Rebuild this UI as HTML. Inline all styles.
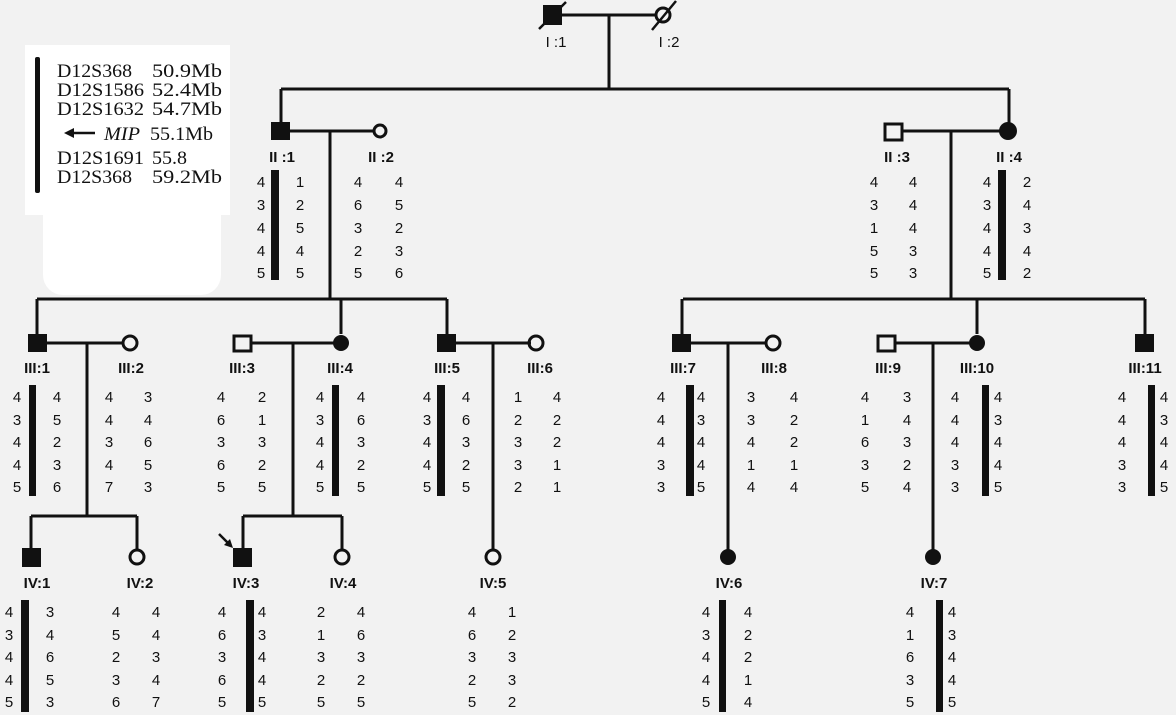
<!DOCTYPE html>
<html><head><meta charset="utf-8"><style>
html,body{margin:0;padding:0;background:#f2f2f2;}
svg{display:block;}
.d{font-family:"Liberation Sans",sans-serif;font-size:15px;fill:#111;text-anchor:middle;}
.l{font-family:"Liberation Sans",sans-serif;font-size:15px;fill:#111;text-anchor:middle;}
.s{font-family:"Liberation Serif",serif;font-size:19px;fill:#111;}
</style></head><body>
<svg width="1176" height="715" viewBox="0 0 1176 715" xmlns="http://www.w3.org/2000/svg">
<rect width="1176" height="715" fill="#f2f2f2"/>
<!-- legend -->
<rect x="25" y="45" width="205" height="170" fill="#fff"/>
<rect x="43" y="195" width="178" height="100" rx="20" fill="#fff"/>
<rect x="35" y="57" width="5" height="136" rx="2" fill="#111"/>
<text class="s" x="57" y="77" textLength="75" lengthAdjust="spacingAndGlyphs">D12S368</text><text class="s" x="152" y="77" textLength="70" lengthAdjust="spacingAndGlyphs">50.9Mb</text>
<text class="s" x="57" y="96" textLength="87" lengthAdjust="spacingAndGlyphs">D12S1586</text><text class="s" x="152" y="96" textLength="70" lengthAdjust="spacingAndGlyphs">52.4Mb</text>
<text class="s" x="57" y="115" textLength="87" lengthAdjust="spacingAndGlyphs">D12S1632</text><text class="s" x="152" y="115" textLength="70" lengthAdjust="spacingAndGlyphs">54.7Mb</text>
<line x1="70" y1="133" x2="95" y2="133" stroke="#111" stroke-width="2.5"/><polygon points="64,133 74,128 74,138" fill="#111"/>
<text class="s" x="104" y="140" font-style="italic" textLength="36" lengthAdjust="spacingAndGlyphs">MIP</text><text class="s" x="150" y="140" textLength="63" lengthAdjust="spacingAndGlyphs">55.1Mb</text>
<text class="s" x="57" y="164" textLength="87" lengthAdjust="spacingAndGlyphs">D12S1691</text><text class="s" x="152" y="164" textLength="35" lengthAdjust="spacingAndGlyphs">55.8</text>
<text class="s" x="57" y="183" textLength="75" lengthAdjust="spacingAndGlyphs">D12S368</text><text class="s" x="152" y="183" textLength="70" lengthAdjust="spacingAndGlyphs">59.2Mb</text>

<g stroke="#111" stroke-width="3" fill="none">
<line x1="562" y1="15" x2="657" y2="15"/>
<line x1="609" y1="15" x2="609" y2="89"/>
<line x1="281" y1="89" x2="1009" y2="89"/>
<line x1="281" y1="89" x2="281" y2="123"/>
<line x1="1009" y1="89" x2="1009" y2="123"/>
<line x1="290" y1="131" x2="374" y2="131"/>
<line x1="330" y1="131" x2="330" y2="299"/>
<line x1="903" y1="131" x2="1000" y2="131"/>
<line x1="951" y1="131" x2="951" y2="299"/>
<line x1="37" y1="299" x2="447" y2="299"/>
<line x1="683" y1="299" x2="1145" y2="299"/>
<line x1="37" y1="299" x2="37" y2="334"/>
<line x1="341" y1="299" x2="341" y2="334"/>
<line x1="447" y1="299" x2="447" y2="334"/>
<line x1="682" y1="299" x2="682" y2="334"/>
<line x1="977" y1="299" x2="977" y2="334"/>
<line x1="1145" y1="299" x2="1145" y2="334"/>
<line x1="47" y1="343" x2="124" y2="343"/>
<line x1="87" y1="343" x2="87" y2="516"/>
<line x1="31" y1="516" x2="137" y2="516"/><line x1="31" y1="516" x2="31" y2="548"/><line x1="137" y1="516" x2="137" y2="550"/>
<line x1="252" y1="343" x2="336" y2="343"/>
<line x1="293" y1="343" x2="293" y2="516"/>
<line x1="243" y1="516" x2="342" y2="516"/><line x1="243" y1="516" x2="243" y2="548"/><line x1="342" y1="516" x2="342" y2="550"/>
<line x1="456" y1="343" x2="531" y2="343"/>
<line x1="493" y1="343" x2="493" y2="550"/>
<line x1="690" y1="343" x2="767" y2="343"/>
<line x1="728" y1="343" x2="728" y2="550"/>
<line x1="895" y1="343" x2="972" y2="343"/>
<line x1="933" y1="343" x2="933" y2="550"/>
</g>
<rect x="543" y="5" width="19" height="20" fill="#111"/>
<line x1="539" y1="29" x2="566" y2="2" stroke="#111" stroke-width="2.5"/>
<circle cx="663" cy="15" r="7" fill="none" stroke="#111" stroke-width="3"/>
<line x1="652" y1="30" x2="676" y2="1" stroke="#111" stroke-width="2.5"/>
<text class="l" x="556" y="47">I :1</text><text class="l" x="669" y="47">I :2</text>
<rect x="271" y="122" width="19" height="18" fill="#111"/>
<circle cx="380" cy="131" r="6" fill="none" stroke="#111" stroke-width="3"/>
<rect x="885" y="124" width="17" height="16" fill="none" stroke="#111" stroke-width="3"/>
<circle cx="1008" cy="131" r="9" fill="#111"/>
<g font-weight="bold">
<text class="l" x="282" y="162">II :1</text><text class="l" x="381" y="162">II :2</text>
<text class="l" x="897" y="162">II :3</text><text class="l" x="1009" y="162">II :4</text>
</g>
<rect x="28" y="334" width="19" height="18" fill="#111"/>
<circle cx="130" cy="343" r="7" fill="none" stroke="#111" stroke-width="3"/>
<rect x="234" y="336" width="17" height="15" fill="none" stroke="#111" stroke-width="3"/>
<circle cx="341" cy="343" r="8" fill="#111"/>
<rect x="437" y="334" width="19" height="18" fill="#111"/>
<circle cx="536" cy="343" r="7" fill="none" stroke="#111" stroke-width="3"/>
<rect x="672" y="334" width="19" height="18" fill="#111"/>
<circle cx="773" cy="343" r="7" fill="none" stroke="#111" stroke-width="3"/>
<rect x="878" y="336" width="17" height="15" fill="none" stroke="#111" stroke-width="3"/>
<circle cx="977" cy="343" r="8" fill="#111"/>
<rect x="1135" y="334" width="19" height="18" fill="#111"/>
<g font-weight="bold">
<text class="l" x="37" y="373">III:1</text><text class="l" x="131" y="373">III:2</text>
<text class="l" x="242" y="373">III:3</text><text class="l" x="340" y="373">III:4</text>
<text class="l" x="447" y="373">III:5</text><text class="l" x="540" y="373">III:6</text>
<text class="l" x="683" y="373">III:7</text><text class="l" x="774" y="373">III:8</text>
<text class="l" x="888" y="373">III:9</text><text class="l" x="977" y="373">III:10</text>
<text class="l" x="1145" y="373">III:11</text>
</g>
<rect x="22" y="548" width="19" height="19" fill="#111"/>
<circle cx="137" cy="557" r="7" fill="none" stroke="#111" stroke-width="3"/>
<rect x="233" y="548" width="19" height="19" fill="#111"/>
<line x1="219" y1="534" x2="230" y2="545" stroke="#111" stroke-width="2.5"/><polygon points="233,548 224,545 230,539" fill="#111"/>
<circle cx="342" cy="557" r="7" fill="none" stroke="#111" stroke-width="3"/>
<circle cx="493" cy="557" r="7" fill="none" stroke="#111" stroke-width="3"/>
<circle cx="728" cy="557" r="8" fill="#111"/>
<circle cx="933" cy="557" r="8" fill="#111"/>
<g font-weight="bold">
<text class="l" x="37" y="588">IV:1</text><text class="l" x="140" y="588">IV:2</text>
<text class="l" x="246" y="588">IV:3</text><text class="l" x="343" y="588">IV:4</text>
<text class="l" x="493" y="588">IV:5</text><text class="l" x="729" y="588">IV:6</text>
<text class="l" x="934" y="588">IV:7</text>
</g>
<g fill="#111">
<rect x="271" y="170" width="8" height="110"/>
<rect x="998" y="170" width="8" height="110"/>
<rect x="29" y="385" width="7" height="111"/>
<rect x="332" y="385" width="7" height="111"/>
<rect x="437" y="385" width="8" height="111"/>
<rect x="686" y="385" width="8" height="111"/>
<rect x="982" y="385" width="7" height="111"/>
<rect x="1148" y="385" width="7" height="111"/>
<rect x="21" y="600" width="8" height="112"/>
<rect x="246" y="600" width="8" height="112"/>
<rect x="719" y="600" width="7" height="112"/>
<rect x="936" y="600" width="7" height="112"/>
</g>
<g class="d">
<text x="261" y="187">4</text><text x="261" y="210">3</text><text x="261" y="233">4</text><text x="261" y="256">4</text><text x="261" y="278">5</text>
<text x="300" y="187">1</text><text x="300" y="210">2</text><text x="300" y="233">5</text><text x="300" y="256">4</text><text x="300" y="278">5</text>
<text x="358" y="187">4</text><text x="358" y="210">6</text><text x="358" y="233">3</text><text x="358" y="256">2</text><text x="358" y="278">5</text>
<text x="399" y="187">4</text><text x="399" y="210">5</text><text x="399" y="233">2</text><text x="399" y="256">3</text><text x="399" y="278">6</text>
<text x="874" y="187">4</text><text x="874" y="210">3</text><text x="874" y="233">1</text><text x="874" y="256">5</text><text x="874" y="278">5</text>
<text x="913" y="187">4</text><text x="913" y="210">4</text><text x="913" y="233">4</text><text x="913" y="256">3</text><text x="913" y="278">3</text>
<text x="987" y="187">4</text><text x="987" y="210">3</text><text x="987" y="233">4</text><text x="987" y="256">4</text><text x="987" y="278">5</text>
<text x="1027" y="187">2</text><text x="1027" y="210">4</text><text x="1027" y="233">3</text><text x="1027" y="256">4</text><text x="1027" y="278">2</text>
</g>
<g class="d">
<text x="17" y="402">4</text><text x="17" y="425">3</text><text x="17" y="447">4</text><text x="17" y="470">4</text><text x="17" y="492">5</text>
<text x="57" y="402">4</text><text x="57" y="425">5</text><text x="57" y="447">2</text><text x="57" y="470">3</text><text x="57" y="492">6</text>
<text x="109" y="402">4</text><text x="109" y="425">4</text><text x="109" y="447">3</text><text x="109" y="470">4</text><text x="109" y="492">7</text>
<text x="148" y="402">3</text><text x="148" y="425">4</text><text x="148" y="447">6</text><text x="148" y="470">5</text><text x="148" y="492">3</text>
<text x="221" y="402">4</text><text x="221" y="425">6</text><text x="221" y="447">3</text><text x="221" y="470">6</text><text x="221" y="492">5</text>
<text x="262" y="402">2</text><text x="262" y="425">1</text><text x="262" y="447">3</text><text x="262" y="470">2</text><text x="262" y="492">5</text>
<text x="320" y="402">4</text><text x="320" y="425">3</text><text x="320" y="447">4</text><text x="320" y="470">4</text><text x="320" y="492">5</text>
<text x="361" y="402">4</text><text x="361" y="425">6</text><text x="361" y="447">3</text><text x="361" y="470">2</text><text x="361" y="492">5</text>
<text x="427" y="402">4</text><text x="427" y="425">3</text><text x="427" y="447">4</text><text x="427" y="470">4</text><text x="427" y="492">5</text>
<text x="466" y="402">4</text><text x="466" y="425">6</text><text x="466" y="447">3</text><text x="466" y="470">2</text><text x="466" y="492">5</text>
<text x="518" y="402">1</text><text x="518" y="425">2</text><text x="518" y="447">3</text><text x="518" y="470">3</text><text x="518" y="492">2</text>
<text x="557" y="402">4</text><text x="557" y="425">2</text><text x="557" y="447">2</text><text x="557" y="470">1</text><text x="557" y="492">1</text>
<text x="661" y="402">4</text><text x="661" y="425">4</text><text x="661" y="447">4</text><text x="661" y="470">3</text><text x="661" y="492">3</text>
<text x="701" y="402">4</text><text x="701" y="425">3</text><text x="701" y="447">4</text><text x="701" y="470">4</text><text x="701" y="492">5</text>
<text x="751" y="402">3</text><text x="751" y="425">3</text><text x="751" y="447">4</text><text x="751" y="470">1</text><text x="751" y="492">4</text>
<text x="794" y="402">4</text><text x="794" y="425">2</text><text x="794" y="447">2</text><text x="794" y="470">1</text><text x="794" y="492">4</text>
<text x="865" y="402">4</text><text x="865" y="425">1</text><text x="865" y="447">6</text><text x="865" y="470">3</text><text x="865" y="492">5</text>
<text x="907" y="402">3</text><text x="907" y="425">4</text><text x="907" y="447">3</text><text x="907" y="470">2</text><text x="907" y="492">4</text>
<text x="955" y="402">4</text><text x="955" y="425">4</text><text x="955" y="447">4</text><text x="955" y="470">3</text><text x="955" y="492">3</text>
<text x="998" y="402">4</text><text x="998" y="425">3</text><text x="998" y="447">4</text><text x="998" y="470">4</text><text x="998" y="492">5</text>
<text x="1122" y="402">4</text><text x="1122" y="425">4</text><text x="1122" y="447">4</text><text x="1122" y="470">3</text><text x="1122" y="492">3</text>
<text x="1164" y="402">4</text><text x="1164" y="425">3</text><text x="1164" y="447">4</text><text x="1164" y="470">4</text><text x="1164" y="492">5</text>
</g>
<g class="d">
<text x="9" y="617">4</text><text x="9" y="640">3</text><text x="9" y="662">4</text><text x="9" y="685">4</text><text x="9" y="707">5</text>
<text x="50" y="617">3</text><text x="50" y="640">4</text><text x="50" y="662">6</text><text x="50" y="685">5</text><text x="50" y="707">3</text>
<text x="116" y="617">4</text><text x="116" y="640">5</text><text x="116" y="662">2</text><text x="116" y="685">3</text><text x="116" y="707">6</text>
<text x="156" y="617">4</text><text x="156" y="640">4</text><text x="156" y="662">3</text><text x="156" y="685">4</text><text x="156" y="707">7</text>
<text x="222" y="617">4</text><text x="222" y="640">6</text><text x="222" y="662">3</text><text x="222" y="685">6</text><text x="222" y="707">5</text>
<text x="262" y="617">4</text><text x="262" y="640">3</text><text x="262" y="662">4</text><text x="262" y="685">4</text><text x="262" y="707">5</text>
<text x="321" y="617">2</text><text x="321" y="640">1</text><text x="321" y="662">3</text><text x="321" y="685">2</text><text x="321" y="707">5</text>
<text x="361" y="617">4</text><text x="361" y="640">6</text><text x="361" y="662">3</text><text x="361" y="685">2</text><text x="361" y="707">5</text>
<text x="472" y="617">4</text><text x="472" y="640">6</text><text x="472" y="662">3</text><text x="472" y="685">2</text><text x="472" y="707">5</text>
<text x="512" y="617">1</text><text x="512" y="640">2</text><text x="512" y="662">3</text><text x="512" y="685">3</text><text x="512" y="707">2</text>
<text x="706" y="617">4</text><text x="706" y="640">3</text><text x="706" y="662">4</text><text x="706" y="685">4</text><text x="706" y="707">5</text>
<text x="748" y="617">4</text><text x="748" y="640">2</text><text x="748" y="662">2</text><text x="748" y="685">1</text><text x="748" y="707">4</text>
<text x="910" y="617">4</text><text x="910" y="640">1</text><text x="910" y="662">6</text><text x="910" y="685">3</text><text x="910" y="707">5</text>
<text x="952" y="617">4</text><text x="952" y="640">3</text><text x="952" y="662">4</text><text x="952" y="685">4</text><text x="952" y="707">5</text>
</g>
</svg>
</body></html>
